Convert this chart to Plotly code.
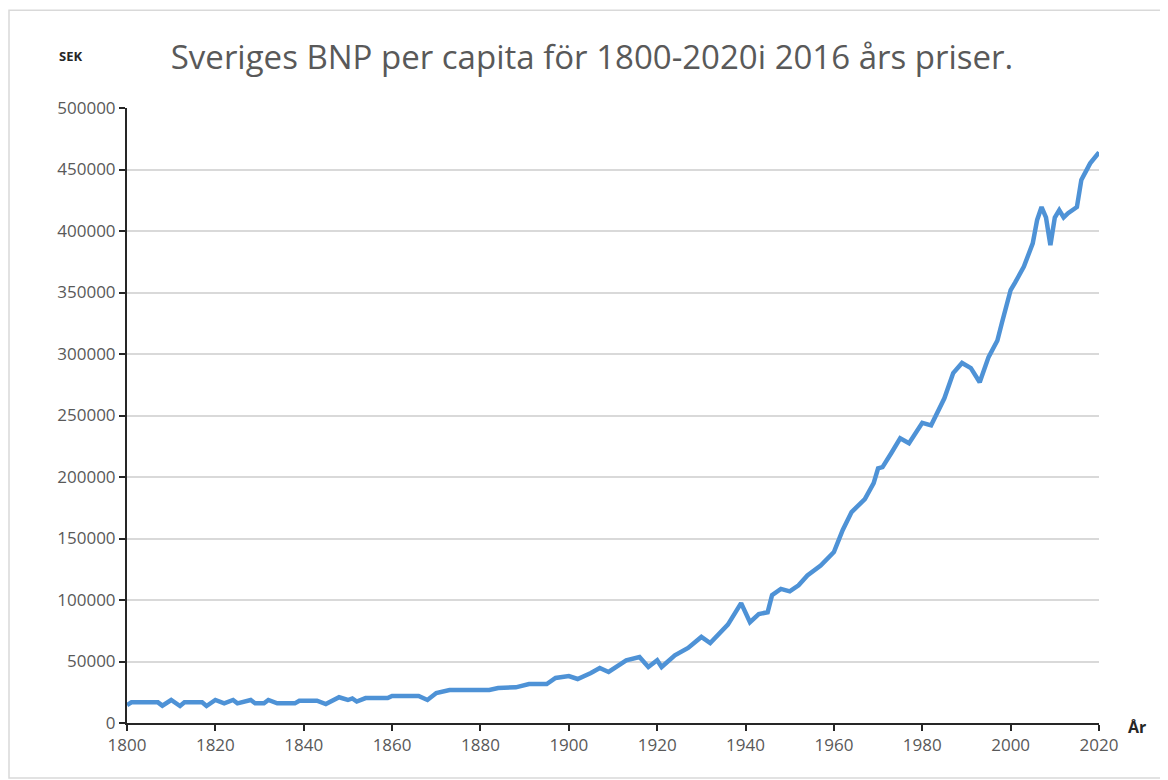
import plotly.graph_objects as go

years = [1800, 1801, 1803, 1807, 1808, 1810, 1812, 1813, 1817, 1818, 1820, 1822, 1824, 1825,
         1828, 1829, 1831, 1832, 1834, 1838, 1839, 1843, 1845, 1848, 1850, 1851, 1852, 1854,
         1859, 1860, 1866, 1868, 1870, 1873, 1882, 1884, 1888, 1891, 1895, 1897, 1900, 1902,
         1905, 1907, 1909, 1913, 1916, 1918, 1920, 1921, 1924, 1927, 1930, 1932, 1936, 1939,
         1941, 1943, 1945, 1946, 1948, 1950, 1952, 1954, 1957, 1960, 1962, 1964, 1967, 1969,
         1970, 1971, 1973, 1975, 1977, 1980, 1982, 1983, 1985, 1987, 1989, 1991, 1993, 1995,
         1997, 1998, 2000, 2001, 2003, 2005, 2006, 2007, 2008, 2009, 2010, 2011, 2012, 2013,
         2015, 2016, 2018, 2020]
gdp = [14600, 16800, 16800, 16800, 14100, 18700, 13800, 16800, 16800, 13800, 18700, 16000, 18700, 16000,
       18700, 16000, 16000, 18700, 16000, 16000, 18100, 18100, 15400, 20900, 18700, 20000, 17500, 20300,
       20300, 22000, 22000, 18700, 24400, 26800, 26800, 28500, 29000, 31700, 31700, 36600, 38200, 35800,
       40600, 44700, 41500, 51000, 53700, 45500, 51000, 45500, 55000, 61000, 70000, 65000, 80000, 97500,
       82000, 88600, 90000, 104000, 109000, 107000, 112000, 120000, 128000, 139000, 157000, 171500, 182000, 195000,
       207000, 208000, 219500, 231500, 227500, 244000, 242000, 249000, 264000, 284500, 292700, 288500, 277000, 297500,
       311000, 325000, 352000, 358000, 371000, 390000, 409000, 419500, 411000, 388600, 411000, 417000, 411000, 414500,
       419500, 441500, 455000, 464000]

y_ticks = [0, 50000, 100000, 150000, 200000, 250000, 300000, 350000, 400000, 450000, 500000]
x_ticks = list(range(1800, 2021, 20))

title_text = "Sveriges BNP per capita för 1800-2020i 2016 års priser."
y_unit = "SEK"
x_unit = "År"

fig = go.Figure()
fig.add_trace(go.Scatter(
    x=years, y=gdp, mode="lines",
    line=dict(color="#4e92d6", width=4.5, shape="linear"),
    showlegend=False, hoverinfo="x+y",
))

font_fam = "Open Sans, Liberation Sans, sans-serif"

fig.update_layout(
    width=1168, height=780,
    margin=dict(l=119, r=77, t=100, b=65),
    paper_bgcolor="white", plot_bgcolor="white",
    title=dict(text=title_text, x=0.5, xanchor="center", y=0.937, yanchor="middle",
               font=dict(family=font_fam, size=33, color="#595959")),
    xaxis=dict(range=[1800, 2020], tickvals=x_ticks, ticktext=[str(v) for v in x_ticks],
               showgrid=False, zeroline=False, showline=True, linecolor="#262626", linewidth=2,
               ticks="outside", ticklen=6, tickwidth=2, tickcolor="#262626",
               tickfont=dict(family=font_fam, size=17, color="#595959")),
    yaxis=dict(range=[0, 500000], tickvals=y_ticks, ticktext=[str(v) for v in y_ticks],
               showgrid=True, gridcolor="#d9d9d9", gridwidth=1.5, zeroline=False,
               showline=True, linecolor="#262626", linewidth=2,
               ticks="outside", ticklen=6, tickwidth=2, tickcolor="#262626",
               tickfont=dict(family=font_fam, size=17, color="#595959")),
)

fig.add_annotation(text=f"<b>{y_unit}</b>", xref="paper", yref="paper",
                   x=-0.0586, y=1.0846, xanchor="center", yanchor="middle", showarrow=False,
                   font=dict(family=font_fam, size=13, color="#262626"))
fig.add_annotation(text=f"<b>{x_unit}</b>", xref="paper", yref="paper",
                   x=1.039, y=-0.0065, xanchor="center", yanchor="middle", showarrow=False,
                   font=dict(family=font_fam, size=16, color="#262626"))

fig.add_shape(type="rect", xref="paper", yref="paper",
              x0=-0.1214, y0=-0.0894, x1=1.069, y1=1.159,
              line=dict(color="#d9d9d9", width=1.5), fillcolor="rgba(0,0,0,0)", layer="below")

fig.write_html("out.html")
